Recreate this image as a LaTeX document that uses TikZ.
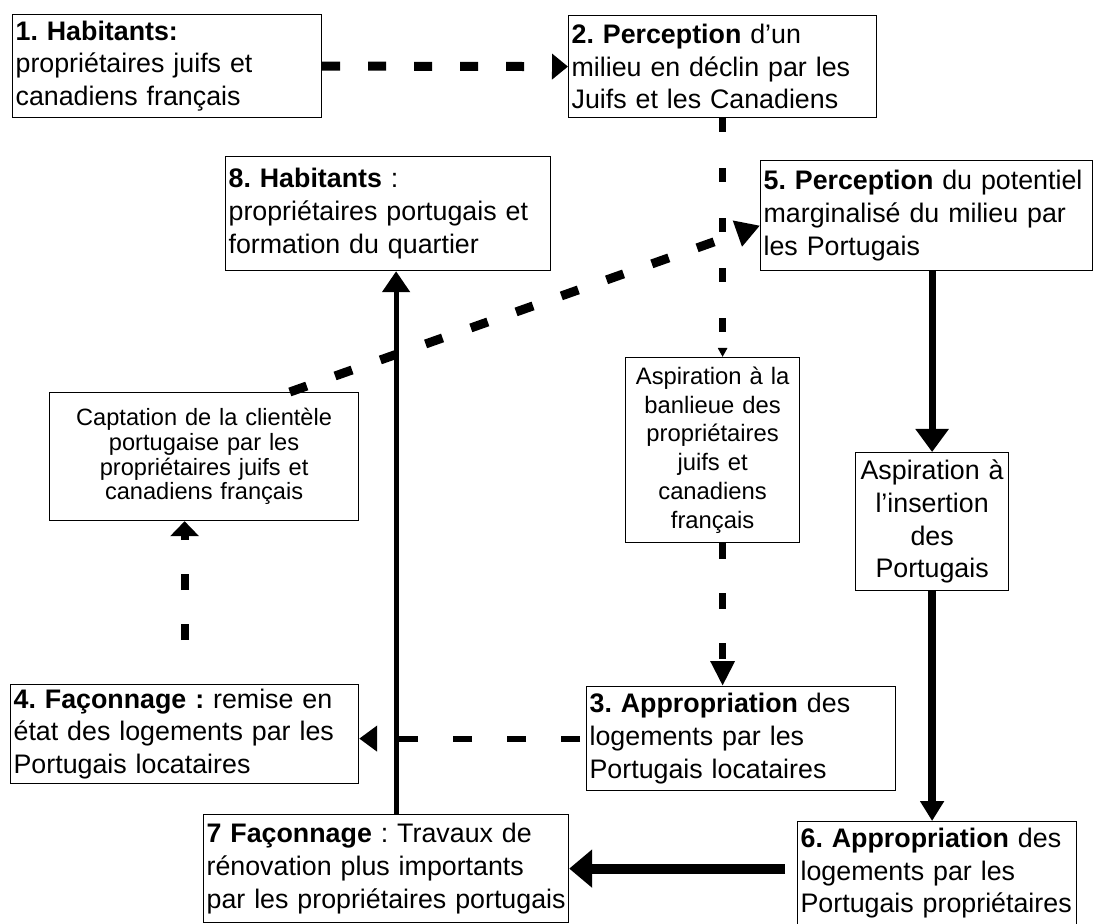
\documentclass[tikz,border=0pt]{standalone}
\usepackage{fontspec}
\setmainfont{Liberation Sans}
\usetikzlibrary{arrows.meta}
\usetikzlibrary{calc}
\frenchspacing

\begin{document}
\begin{tikzpicture}[x=0.5pt,y=-0.5pt,semithick]
 \tikzstyle{box}=[draw, line width=0.6pt, fill=white, anchor=north west, inner xsep=1.5pt, inner ysep=2pt, align=left, font=\fontsize{13.4}{16.4}\selectfont]
 \tikzstyle{cbox}=[box, align=center]
 \useasboundingbox (0,0) rectangle (1096,924);
 % boites du haut
 \node[box, text width=151.5pt, minimum height=51.5pt] (H1) at (12,14) {\textbf{1. Habitants:}\\propriétaires juifs et\\canadiens français};
 \node[box, text width=151pt, minimum height=51pt] (P2) at (568,15) {\textbf{2. Perception} d’un\\milieu en déclin par les\\Juifs et les Canadiens};
 \node[box, text width=159.5pt, minimum height=57pt] (H8) at (225,156) {\textbf{8. Habitants} :\\propriétaires portugais et\\formation du quartier};
 \node[box, text width=163pt, minimum height=55pt] (P5) at (760,160) {\textbf{5. Perception} du potentiel\\marginalisé du milieu par\\les Portugais};
 % aspirations
 \node[cbox, text width=151.5pt, minimum height=64pt, font=\fontsize{11.8}{12.4}\selectfont] (C) at (49,392) {Captation de la clientèle\\portugaise par les\\propriétaires juifs et\\canadiens français};
 \node[cbox, text width=84pt, minimum height=92.5pt, font=\fontsize{11.9}{14.4}\selectfont] (AB) at (625,357) {Aspiration à la\\banlieue des\\propriétaires\\juifs et\\canadiens\\français};
 \node[cbox, text width=73.5pt, minimum height=69pt] (AI) at (855,452) {Aspiration à\\l'insertion\\des\\Portugais};
 % boites du bas
 \node[box, text width=171pt, minimum height=48pt] (F4) at (10,684) {\textbf{4. Façonnage :} remise en\\état des logements par les\\Portugais locataires};
 \node[box, text width=151.5pt, minimum height=52pt] (A3) at (586,686) {\textbf{3. Appropriation} des\\logements par les\\Portugais locataires};
 \node[box, text width=179.5pt, minimum height=54pt] (F7) at (203,814) {\textbf{7 Façonnage} : Travaux de\\rénovation plus importants\\par les propriétaires portugais};
 \node[box, text width=136.5pt, minimum height=51.5pt] (A6) at (797,821) {\textbf{6. Appropriation} des\\logements par les\\Portugais propriétaires};
 \coordinate (t7) at ([xshift=5pt]F7.north);
 \path
  (H1.east) edge[line width=4.5pt, dash pattern=on 9pt off 14pt, -{Triangle[length=8pt,width=12.5pt]}] (P2.west)
  (P2.south) edge[line width=3.5pt, dash pattern=on 7pt off 18pt, -{Triangle[length=4.5pt,width=4.5pt]}] (P2.south |- AB.north)
  (P2.south |- AB.south) edge[line width=3.5pt, dash pattern=on 8pt off 17pt, -{Triangle[length=12.5pt,width=11.5pt]}] (P2.south |- A3.north)
  (A3.west) edge[line width=3pt, dash pattern=on 9.5pt off 17.5pt, dash phase=24pt, -{Triangle[length=9pt,width=12.5pt]}] (A3.west -| F4.east)
  (F4.north) edge[line width=4pt, dash pattern=on 8pt off 17pt, dash phase=8pt, shorten <=5pt, -{Triangle[length=7.5pt,width=14pt]}] (F4.north |- C.south)
  (C.37) edge[line width=4.5pt, dash pattern=on 9pt off 15pt, -{Triangle[length=12pt,width=13pt]}] ([yshift=-5pt]P5.west)
  (AI.north |- P5.south) edge[line width=3.5pt, -{Triangle[length=11.5pt,width=16pt]}] (AI.north)
  (AI.south) edge[line width=4pt, -{Triangle[length=10pt,width=11.5pt]}] (AI.south |- A6.north)
  (F7.east -| A6.west) edge[line width=5pt, shorten <=6pt, -{Triangle[length=11.5pt,width=18.5pt]}] (F7.east)
  (t7) edge[line width=2.5pt, -{Triangle[length=10.5pt,width=13.5pt]}] (t7 |- H8.south);
\end{tikzpicture}
\end{document}
